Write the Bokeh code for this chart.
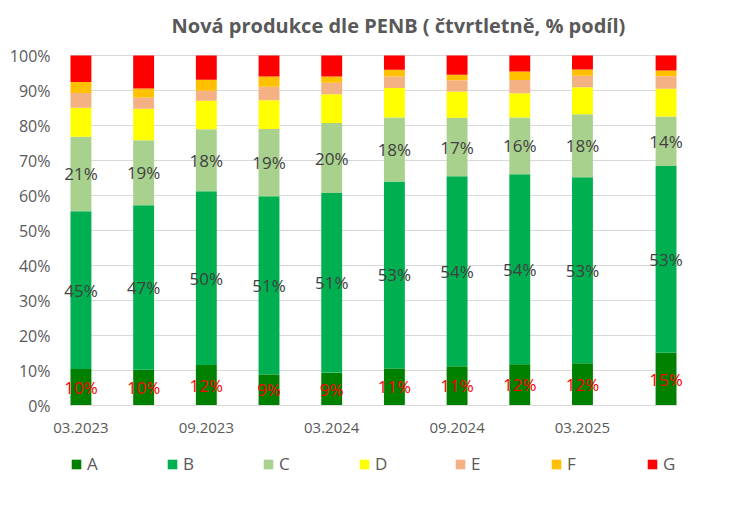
from bokeh.plotting import figure
from bokeh.models import (ColumnDataSource, FixedTicker, PrintfTickFormatter,
                          Legend, LegendItem)
from bokeh.core.properties import value
from bokeh.embed import file_html
from bokeh.resources import INLINE

# ---- data (percent shares) ----
periods = ["03.2023", "06.2023", "09.2023", "12.2023", "03.2024",
           "06.2024", "09.2024", "12.2024", "03.2025", "07.2025"]
A = [10.4, 10.2, 11.6, 8.9, 9.4, 10.6, 11.2, 11.8, 12.1, 15.1]
B = [45.1, 47.0, 49.6, 50.9, 51.3, 53.4, 54.3, 54.3, 53.1, 53.3]
C = [21.3, 18.6, 17.7, 19.2, 20.0, 18.3, 16.7, 16.2, 18.0, 14.2]
D = [8.3, 9.0, 8.2, 8.2, 8.2, 8.4, 7.5, 6.9, 7.7, 7.9]
E = [4.2, 3.2, 2.8, 3.9, 3.3, 3.3, 3.2, 3.8, 3.3, 3.6]
F = [3.1, 2.6, 3.2, 2.9, 1.8, 1.9, 1.6, 2.4, 1.8, 1.6]
G = [7.6, 9.4, 6.9, 6.0, 6.0, 4.1, 5.5, 4.6, 4.0, 4.3]
categories = ["A", "B", "C", "D", "E", "F", "G"]
tick_labels = ["03.2023", "09.2023", "03.2024", "09.2024", "03.2025"]
y_ticks = [0, 10, 20, 30, 40, 50, 60, 70, 80, 90, 100]

colors = ["#008000", "#00B050", "#A9D18E", "#FFFF00", "#F4B183", "#FFC000", "#FF0000"]

def month_index(s):
    m, y = s.split(".")
    return (int(y) - 2023) * 12 + int(m) - 3

x = [month_index(s) for s in periods]
series = [A, B, C, D, E, F, G]
data = {"x": x}
for name, vals in zip(categories, series):
    data[name] = vals
src = ColumnDataSource(data)

# ---- layout geometry (pixels) ----
W, H, FRAME_TOP = 740, 518, 40
PLOT_L, PLOT_R, TOP100_Y, ZERO_Y = 70, 676, 55, 405   # plotting area
x0, x1 = min(x) - 0.5, max(x) + 0.5
ppm = (PLOT_R - PLOT_L) / (x1 - x0)            # px per month
ppy = (ZERO_Y - TOP100_Y) / 100.0              # px per percent
x_range = (x0 - PLOT_L / ppm, x1 + (W - PLOT_R) / ppm)
y_range = (-(H - ZERO_Y) / ppy, 100 + (TOP100_Y - FRAME_TOP) / ppy)

p = figure(width=W, height=H, output_backend="svg", toolbar_location=None,
           x_range=x_range, y_range=y_range,
           min_border_left=0, min_border_right=0, min_border_top=FRAME_TOP,
           min_border_bottom=0)
p.outline_line_color = None
p.background_fill_color = "white"

rends = p.vbar_stack(categories, x="x", width=1.0, color=colors, source=src,
                     line_color=None)

# data labels for A, B, C
label_font = value("Open Sans")
cum = [0.0] * len(x)
for name, vals, col in zip(categories[:3], series[:3], ["#FF0000", "#404040", "#404040"]):
    mids = [c + v / 2 for c, v in zip(cum, vals)]
    txt = ["%d%%" % round(v) for v in vals]
    p.text(x=x, y=mids, text=txt, text_align="center", text_baseline="middle",
           text_font=label_font, text_font_size="17px", text_color=col)
    cum = [c + v for c, v in zip(cum, vals)]

# axes
p.xaxis.fixed_location = 0
p.xaxis.bounds = (x0, x1)
p.xaxis.ticker = FixedTicker(ticks=[month_index(s) for s in tick_labels])
p.xaxis.major_label_overrides = {month_index(s): s for s in tick_labels}
p.xaxis.major_tick_line_color = None
p.xaxis.minor_tick_line_color = None
p.xaxis.axis_line_color = "#D9D9D9"
p.xaxis.major_label_text_font = "Open Sans"
p.xaxis.major_label_text_font_size = "15px"
p.xaxis.major_label_text_color = "#595959"
p.xaxis.major_label_standoff = 11

p.yaxis.fixed_location = x0
p.yaxis.bounds = (0, 100)
p.yaxis.ticker = FixedTicker(ticks=y_ticks)
p.yaxis.formatter = PrintfTickFormatter(format="%d%%")
p.yaxis.major_tick_line_color = None
p.yaxis.minor_tick_line_color = None
p.yaxis.axis_line_color = None
p.yaxis.major_label_text_font = "Open Sans"
p.yaxis.major_label_text_font_size = "16px"
p.yaxis.major_label_text_color = "#595959"
p.yaxis.major_label_standoff = 14

p.xgrid.grid_line_color = None
p.ygrid.ticker = FixedTicker(ticks=y_ticks)
p.ygrid.cross_bounds = (x0, x1)
p.ygrid.grid_line_color = "#D9D9D9"
p.ygrid.grid_line_width = 1

# title
p.title.text = "Nová produkce dle PENB ( čtvrtletně, % podíl)"
p.title.text_font = "Open Sans"
p.title.text_font_style = "bold"
p.title.text_font_size = "20px"
p.title.text_color = "#595959"
p.title.align = "left"
p.title.offset = 171
p.title.standoff = 3

# legend (inside the frame, below the x labels)
items = [LegendItem(label=c, renderers=[r]) for c, r in zip(categories, rends)]
legend = Legend(items=items, orientation="horizontal", location=(PLOT_L, 43),
                glyph_width=12, glyph_height=12, label_standoff=5,
                label_width=14, spacing=65, padding=0, margin=0,
                label_text_font="Open Sans", label_text_font_size="17px",
                label_text_color="#595959", border_line_color=None,
                background_fill_alpha=0)
p.add_layout(legend, "center")

open("out.html", "w").write(file_html(p, INLINE))
